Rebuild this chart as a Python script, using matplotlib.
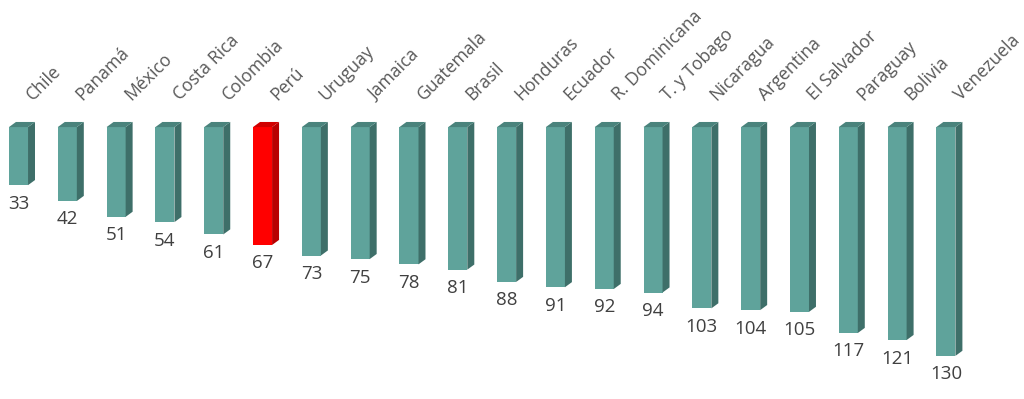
import matplotlib.pyplot as plt
from matplotlib.patches import Polygon

# Data
countries = ['Chile', 'Panamá', 'México', 'Costa Rica', 'Colombia', 'Perú',
             'Uruguay', 'Jamaica', 'Guatemala', 'Brasil', 'Honduras', 'Ecuador',
             'R. Dominicana', 'T. y Tobago', 'Nicaragua', 'Argentina',
             'El Salvador', 'Paraguay', 'Bolivia', 'Venezuela']
values = [33, 42, 51, 54, 61, 67, 73, 75, 78, 81, 88, 91, 92, 94, 103, 104,
          105, 117, 121, 130]
highlight = 'Perú'

# Colours (front, side, top)
teal = ('#5fa39b', '#3e6f69', '#4a837c')
red = ('#ff0000', '#b80000', '#d00000')

fig = plt.figure(figsize=(10.24, 3.99), dpi=100)
ax = fig.add_axes([0, 0, 1, 1])
ax.set_xlim(-0.379, 20.6)
ax.set_ylim(154.5, -72.2)
ax.axis('off')

w = 0.39    # front width
dx = 0.143  # depth offset x
dy = 2.9    # depth offset y (value units)

for i, (name, v) in enumerate(zip(countries, values)):
    front, side, top = red if name == highlight else teal
    x0 = i - w / 2
    x1 = i + w / 2
    ax.add_patch(Polygon([(x0, 0), (x1, 0), (x1, v), (x0, v)],
                         closed=True, facecolor=front, edgecolor='none'))
    ax.add_patch(Polygon([(x1, 0), (x1 + dx, -dy), (x1 + dx, v - dy), (x1, v)],
                         closed=True, facecolor=side, edgecolor='none'))
    ax.add_patch(Polygon([(x0, 0), (x0 + dx, -dy), (x1 + dx, -dy), (x1, 0)],
                         closed=True, facecolor=top, edgecolor='none'))
    ax.text(i, v + 10.5, str(v), ha='center', va='center', fontsize=13.5,
            color='#404040', family='Open Sans')
    ax.text(i + 0.3, -15, name, ha='left', va='baseline', rotation=45,
            rotation_mode='anchor', fontsize=12.7, color='#595959',
            family='Open Sans')

fig.savefig('out.png', dpi=100)
